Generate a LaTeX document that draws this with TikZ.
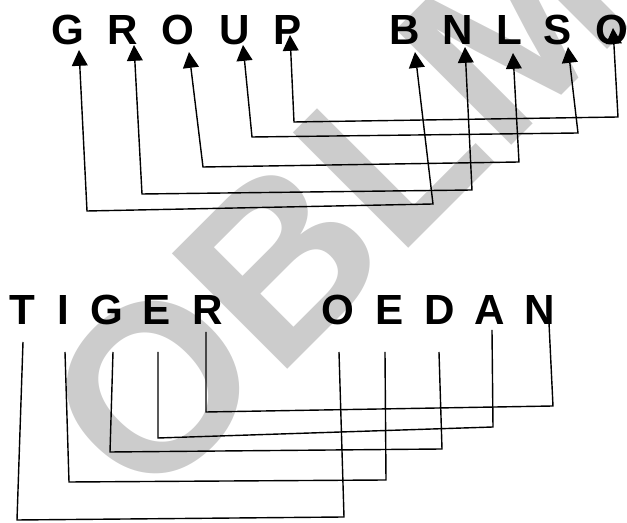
\documentclass[tikz,border=0pt]{standalone}
\usepackage{fontspec}
\setmainfont{Liberation Sans}
\usetikzlibrary{arrows.meta}

\tikzset{
  letter/.style={font=\fontsize{24}{24}\selectfont\bfseries, inner sep=0pt, anchor=base},
  link/.style={line width=0.8pt, line join=miter},
  arrowlink/.style={link, {Triangle[length=9pt,width=9pt]}-{Triangle[length=9pt,width=9pt]}},
  watermark/.style={font=\fontsize{135}{135}\selectfont\bfseries, text=black!20,
    inner sep=0pt, anchor=base west, rotate=45}
}

\begin{document}
\begin{tikzpicture}[x=0.02cm,y=-0.02cm]
    \useasboundingbox (0,0) rectangle (627,523);
    \begin{scope}
    \clip (0,0) rectangle (627,523);
    \node[watermark] (mark) at (146,511) {OBLM};
    \end{scope}

    % GROUP / BNLSO
    \foreach \i/\ch/\x in {1/G/68,2/R/123,3/O/178,4/U/235,5/P/288}
        \node[letter] (w\i) at (\x,45) {\ch};
    \foreach \i/\ch/\x in {1/B/405,2/N/458,3/L/509,4/S/558,5/O/612}
        \node[letter] (v\i) at (\x,45) {\ch};
    \foreach \i/\tx/\ty/\fx/\fy in {1/79/50/87/211,2/134/45/142/194,3/189/52/203/167,4/243/45/252/137,5/290/35/294/122}{
        \coordinate (w\i-tip) at (\tx,\ty);
        \coordinate (w\i-foot) at (\fx,\fy);
    }
    \foreach \i/\tx/\ty/\fx/\fy in {1/415/52/433/204,2/465/47/472/190,3/513/53/519/162,4/568/47/578/133,5/613/28/618/117}{
        \coordinate (v\i-tip) at (\tx,\ty);
        \coordinate (v\i-foot) at (\fx,\fy);
    }
    \foreach \i in {1,...,5}
        \draw[arrowlink] (v\i-tip) -- (v\i-foot) -- (w\i-foot) -- (w\i-tip);

    % TIGER / OEDAN
    \foreach \i/\ch/\x in {1/T/22,2/I/63,3/G/107,4/E/157,5/R/208}
        \node[letter] (t\i) at (\x,325) {\ch};
    \foreach \i/\ch/\x in {1/O/338,2/E/390,3/D/440,4/A/490,5/N/540}
        \node[letter] (o\i) at (\x,325) {\ch};
    \foreach \i/\tx/\ty/\fx/\fy in {1/23/342/17/520,2/65/352/69/482,3/113/352/110/452,4/158/352/158/438,5/206/332/206/412}{
        \coordinate (t\i-top) at (\tx,\ty);
        \coordinate (t\i-foot) at (\fx,\fy);
    }
    \foreach \i/\tx/\ty/\fx/\fy in {1/339/352/344/517,2/385/352/386/480,3/439/352/442/449,4/492/330/493/427,5/549/323/553/406}{
        \coordinate (o\i-top) at (\tx,\ty);
        \coordinate (o\i-foot) at (\fx,\fy);
    }
    \foreach \i in {1,...,5}
        \draw[link] (o\i-top) -- (o\i-foot) -- (t\i-foot) -- (t\i-top);
\end{tikzpicture}
\end{document}
